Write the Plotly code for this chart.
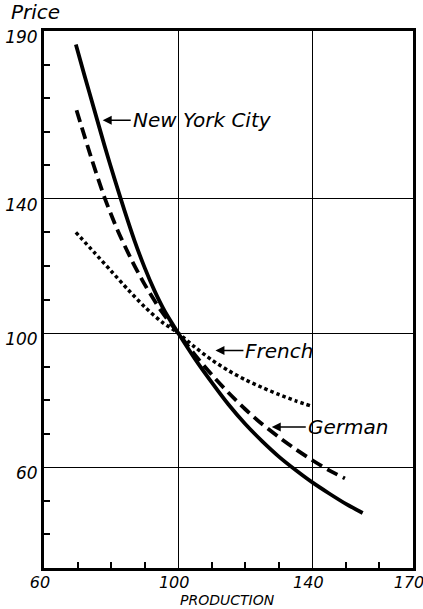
import plotly.graph_objects as go

# ---- data ----
nyc_x = [69.5, 72, 75, 78, 81, 84, 87, 90, 93, 96, 100, 105, 110, 115, 120, 125, 130, 135, 140, 145, 150, 155]
nyc_y = [186, 177, 166.5, 156, 146, 136.5, 127.5, 119.5, 112.5, 106.5, 100, 92.3, 85.3, 78.7, 72.9, 67.8, 63.2, 59.2, 55.5, 52.2, 49.1, 46.4]

german_x = [69.7, 74, 78, 82, 86, 90, 95, 100, 105, 110, 115, 120, 125, 130, 135, 140, 145, 149.7]
german_y = [166.4, 152.5, 140.5, 130.5, 122, 114.5, 106.5, 100, 93.5, 87.6, 82.2, 77.3, 72.9, 69, 65.4, 62.1, 59.1, 56.7]

french_x = [69.5, 75, 80, 85, 90, 95, 100, 105, 110, 115, 120, 125, 130, 135, 139.8]
french_y = [130, 124, 118.5, 113, 107.8, 103.4, 100, 95.8, 92, 88.8, 86.1, 83.8, 81.7, 79.8, 78.2]

x_ticks = [60, 100, 140, 170]
y_ticks = [60, 100, 140, 190]
x_minor = [70, 80, 90, 110, 120, 130, 150, 160]
y_minor = [40, 50, 70, 80, 90, 110, 120, 130, 150, 160, 170, 180]

labels = ["New York City", "French", "German"]
label_tip_x = [77.5, 111.1, 127.9]
label_tip_y = [163.4, 94.8, 72.0]
label_offset = [28, 28, 34]

FONT = "DejaVu Sans"

fig = go.Figure()
fig.add_trace(go.Scatter(x=nyc_x, y=nyc_y, mode="lines",
                         line=dict(color="black", width=3.8, shape="spline", smoothing=0.8),
                         showlegend=False, hoverinfo="skip"))
fig.add_trace(go.Scatter(x=german_x, y=german_y, mode="lines",
                         line=dict(color="black", width=3.8, dash="12px,6px", shape="spline", smoothing=0.8),
                         showlegend=False, hoverinfo="skip"))
fig.add_trace(go.Scatter(x=french_x, y=french_y, mode="lines",
                         line=dict(color="black", width=3.5, dash="3.5px,3px", shape="spline", smoothing=0.8),
                         showlegend=False, hoverinfo="skip"))

for t, tx, ty, off in zip(labels, label_tip_x, label_tip_y, label_offset):
    fig.add_annotation(x=tx, y=ty, xref="x", yref="y", text=t, showarrow=True,
                       ax=off, ay=0, axref="pixel", ayref="pixel", xanchor="left",
                       arrowhead=2, arrowsize=1.2, arrowwidth=1.5, arrowcolor="black",
                       font=dict(family=FONT, size=20, color="black", style="italic"))

fig.add_annotation(x=0, y=1, xref="paper", yref="paper", xshift=-35, yshift=5,
                   text="Price", showarrow=False, xanchor="left", yanchor="bottom",
                   font=dict(family=FONT, size=20, color="black", style="italic"))
fig.add_annotation(x=114.8, y=0, xref="x", yref="paper", yshift=-32,
                   text="PRODUCTION", showarrow=False, xanchor="center", yanchor="middle",
                   font=dict(family=FONT, size=14, color="black", style="italic"))

axis_common = dict(showline=True, linecolor="black", linewidth=3, mirror=True,
                   showgrid=True, gridcolor="black", gridwidth=1.3, zeroline=False,
                   ticks="", tickmode="array", ticklabeloverflow="allow")

fig.update_xaxes(range=[60, 170], tickvals=x_ticks, ticktext=[str(v) for v in x_ticks],
                 ticklabelshift=-4, ticklabelstandoff=-2,
                 tickfont=dict(family=FONT, size=16, color="black", style="italic"),
                 minor=dict(tickmode="array", tickvals=x_minor, ticks="inside", ticklen=6,
                            tickwidth=1.5, tickcolor="black", showgrid=False),
                 **axis_common)
fig.update_yaxes(range=[30, 190], tickvals=y_ticks, ticktext=[str(v) for v in y_ticks],
                 ticklabelshift=6,
                 tickfont=dict(family=FONT, size=17, color="black", style="italic"),
                 minor=dict(tickmode="array", tickvals=y_minor, ticks="inside", ticklen=6,
                            tickwidth=1.5, tickcolor="black", showgrid=False),
                 **axis_common)

fig.update_layout(width=423, height=609, margin=dict(l=44, r=10, t=31, b=41, autoexpand=False),
                  plot_bgcolor="white", paper_bgcolor="white", showlegend=False)

fig.write_html("out.html", config={"responsive": False, "displayModeBar": False},
               post_script="document.body.style.margin='0';")
